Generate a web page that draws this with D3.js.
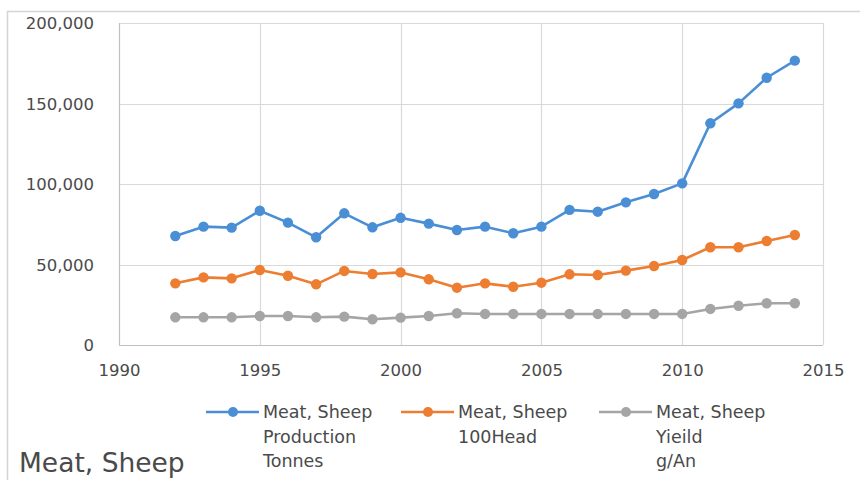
<!DOCTYPE html>
<html>
<head>
<meta charset="utf-8">
<script src="https://cdn.jsdelivr.net/npm/d3@7"></script>
<style>
  html, body { margin: 0; padding: 0; background: #fff; }
  svg { display: block; }
</style>
</head>
<body>
<script>
// Sheep meat series, 1992–2014
const years = d3.range(1992, 2015);
const production = [67700, 73500, 72900, 83400, 76000, 66900, 81800, 73100, 79000, 75400,
                    71400, 73500, 69400, 73500, 83900, 82800, 88600, 93800, 100400, 137700,
                    150100, 166000, 176600];
const head100 = [38300, 42000, 41400, 46600, 43000, 37700, 46000, 44100, 45100, 40800,
                 35600, 38300, 36200, 38700, 43900, 43500, 46200, 49100, 52800, 60700,
                 60700, 64600, 68300];
const yieldGAn = [17200, 17200, 17200, 18000, 18000, 17200, 17600, 16000, 17000, 18000,
                  19700, 19300, 19300, 19300, 19300, 19300, 19300, 19300, 19300, 22400,
                  24400, 25900, 25900];
const xTicks = [1990, 1995, 2000, 2005, 2010, 2015];
const yTicks = [0, 50000, 100000, 150000, 200000];
const seriesNames = [
  ["Meat, Sheep", "Production", "Tonnes"],
  ["Meat, Sheep", "100Head"],
  ["Meat, Sheep", "Yieild", "g/An"]
];
const colors = ["#4a8fd6", "#ed7d31", "#a5a5a5"];
const chartTitle = "Meat, Sheep";

const W = 860, H = 480;
const font = "'DejaVu Sans', sans-serif";
const textColor = "#4a4a4a";
const svg = d3.select("body").append("svg").attr("width", W).attr("height", H);

// outer chart frame (top and left edges)
svg.append("path")
  .attr("d", `M7.5,${H} V11.5 H${W}`)
  .attr("fill", "none").attr("stroke", "#d4d4d4").attr("stroke-width", 1.5);

const x = d3.scaleLinear().domain([1990, 2015]).range([119, 823]);
const y = d3.scaleLinear().domain([0, 200000]).range([345, 23]);

// gridlines
const grid = svg.append("g");
grid.selectAll("line.h").data(yTicks).join("line")
  .attr("x1", x(1990)).attr("x2", x(2015))
  .attr("y1", d => Math.round(y(d)) + 0.5).attr("y2", d => Math.round(y(d)) + 0.5)
  .attr("stroke", d => d === 0 ? "#bfbfbf" : "#d9d9d9").attr("stroke-width", 1.2);
grid.selectAll("line.v").data(xTicks).join("line")
  .attr("y1", y(0)).attr("y2", y(200000))
  .attr("x1", d => Math.round(x(d)) + 0.5).attr("x2", d => Math.round(x(d)) + 0.5)
  .attr("stroke", d => d === 1990 ? "#bfbfbf" : "#d9d9d9").attr("stroke-width", 1.2);

// axes
const fmt = d3.format(",");
const yAxis = svg.append("g").attr("transform", "translate(94,0)")
  .call(d3.axisLeft(y).tickValues(yTicks).tickFormat(fmt).tickSize(0).tickPadding(0));
yAxis.select(".domain").remove();
yAxis.selectAll("text").attr("font-family", font).attr("font-size", 16.5)
  .attr("fill", textColor).attr("dy", "0.35em");

const xAxis = svg.append("g").attr("transform", "translate(0,364)")
  .call(d3.axisBottom(x).tickValues(xTicks).tickFormat(d3.format("d")).tickSize(0).tickPadding(0));
xAxis.select(".domain").remove();
xAxis.selectAll("text").attr("font-family", font).attr("font-size", 16.5)
  .attr("fill", textColor).attr("dy", "0.71em");

// series lines and markers
const allSeries = [production, head100, yieldGAn];
const line = d3.line().x((d, i) => x(years[i])).y(d => y(d));
allSeries.forEach((vals, k) => {
  const g = svg.append("g");
  g.append("path").datum(vals).attr("d", line)
    .attr("fill", "none").attr("stroke", colors[k]).attr("stroke-width", 2.6)
    .attr("stroke-linejoin", "round");
  g.selectAll("circle").data(vals).join("circle")
    .attr("cx", (d, i) => x(years[i])).attr("cy", d => y(d)).attr("r", 5.2)
    .attr("fill", colors[k]);
});

// legend
const legendX = [206, 401, 599];
const legend = svg.append("g");
seriesNames.forEach((lines, k) => {
  const lx = legendX[k];
  const g = legend.append("g");
  g.append("line").attr("x1", lx).attr("x2", lx + 53).attr("y1", 412).attr("y2", 412)
    .attr("stroke", colors[k]).attr("stroke-width", 2.6);
  g.append("circle").attr("cx", lx + 27).attr("cy", 412).attr("r", 5).attr("fill", colors[k]);
  const t = g.append("text").attr("font-family", font).attr("font-size", 17.5).attr("fill", textColor);
  lines.forEach((s, j) => {
    t.append("tspan").attr("x", lx + 57).attr("y", 418 + j * 24.5).text(s);
  });
});

// title in lower-left corner
svg.append("text").attr("x", 19).attr("y", 472)
  .attr("font-family", font).attr("font-size", 26.5).attr("fill", textColor)
  .text(chartTitle);
</script>
</body>
</html>
